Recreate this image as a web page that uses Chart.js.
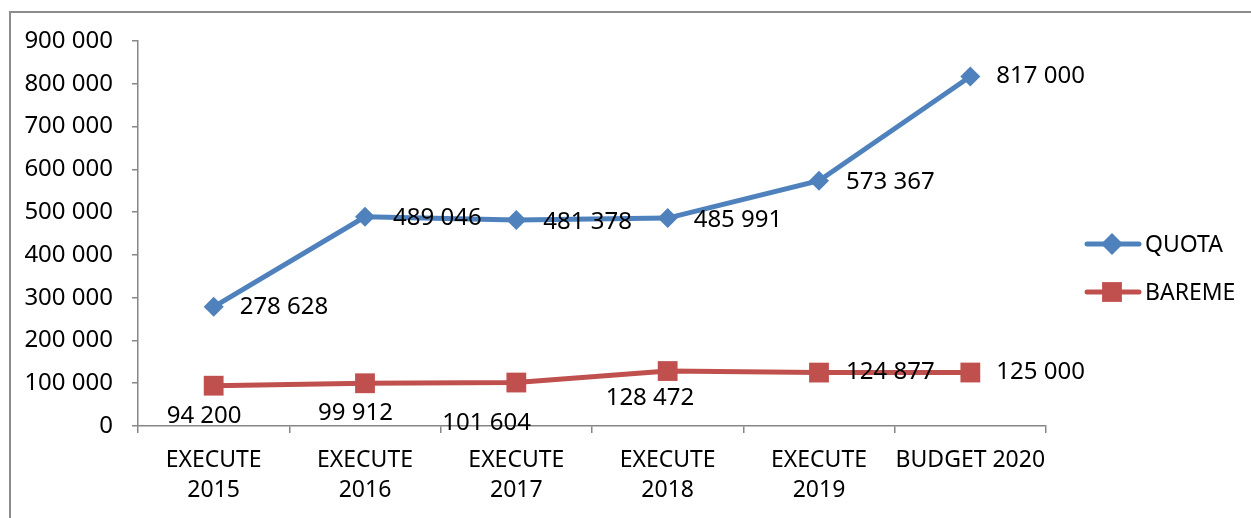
<!DOCTYPE html>
<html>
<head>
<meta charset="utf-8">
<script src="https://cdn.jsdelivr.net/npm/chart.js@4.4.1/dist/chart.umd.min.js"></script>
<style>
	html, body { margin: 0; padding: 0; background: #fff; overflow: hidden; }
	.frame { position: absolute; left: 9px; top: 11px; width: 1300px; height: 600px; border: 2px solid #8c8c8c; box-sizing: border-box; }
	.wrap { position: absolute; left: 0; top: 0; width: 1251px; height: 518px; }
</style>
</head>
<body>
<div class="frame"></div>
<div class="wrap"><canvas id="quota-chart"></canvas></div>
<script>
const categories = [
	[ 'EXECUTE', '2015' ],
	[ 'EXECUTE', '2016' ],
	[ 'EXECUTE', '2017' ],
	[ 'EXECUTE', '2018' ],
	[ 'EXECUTE', '2019' ],
	'BUDGET 2020',
];
const quotaValues = [ 278628, 489046, 481378, 485991, 573367, 817000 ];
const baremeValues = [ 94200, 99912, 101604, 128472, 124877, 125000 ];
const yTicks = [ 0, 100000, 200000, 300000, 400000, 500000, 600000, 700000, 800000, 900000 ];

const FONT = '"Noto Sans", "DejaVu Sans", sans-serif';
const BLUE = '#4f81bd';
const RED = '#c0504d';
const AXIS = '#868686';

// label offsets from the point: [dx of left edge, dy of text middle]
const quotaLabelPos = [ [ 26, 0 ], [ 28, 1 ], [ 27, 2 ], [ 26, 2 ], [ 27, 1 ], [ 26, 0 ] ];
const baremeLabelPos = [ [ -47, 30 ], [ -47, 30 ], [ -74, 41 ], [ -62, 27 ], [ 27, 0 ], [ 26, 0 ] ];

const fmt = ( v ) => String( v ).replace( /\B(?=(\d{3})+(?!\d))/g, ' ' );

const dataLabels = {
	id: 'dataLabels',
	afterDatasetsDraw( chart ) {
		const ctx = chart.ctx;
		const positions = [ quotaLabelPos, baremeLabelPos ];
		ctx.save();
		ctx.font = '24px ' + FONT;
		ctx.fillStyle = '#000';
		ctx.textAlign = 'left';
		ctx.textBaseline = 'middle';
		chart.data.datasets.forEach( ( ds, d ) => {
			const meta = chart.getDatasetMeta( d );
			meta.data.forEach( ( pt, i ) => {
				const off = positions[ d ][ i ];
				ctx.fillText( fmt( ds.data[ i ] ), pt.x + off[ 0 ], pt.y + off[ 1 ] );
			} );
		} );
		ctx.restore();
	},
};

const sideLegend = {
	id: 'sideLegend',
	afterDraw( chart ) {
		const ctx = chart.ctx;
		const items = [
			{ text: 'QUOTA', color: BLUE, style: 'rectRot', radius: 11, y: 244 },
			{ text: 'BAREME', color: RED, style: 'rect', radius: 14, y: 292 },
		];
		ctx.save();
		items.forEach( ( it ) => {
			ctx.strokeStyle = it.color;
			ctx.lineWidth = 5;
			ctx.lineCap = 'round';
			ctx.beginPath();
			ctx.moveTo( 1087, it.y );
			ctx.lineTo( 1139, it.y );
			ctx.stroke();
			ctx.fillStyle = it.color;
			Chart.helpers.drawPoint( ctx, { pointStyle: it.style, radius: it.radius, borderWidth: 0 }, 1112, it.y );
			ctx.fillStyle = '#000';
			ctx.font = '23px ' + FONT;
			ctx.textAlign = 'left';
			ctx.textBaseline = 'middle';
			ctx.fillText( it.text, 1145, it.y + 1 );
		} );
		ctx.restore();
	},
};

const config = {
	type: 'line',
	data: {
		labels: categories,
		datasets: [
			{
				label: 'QUOTA',
				data: quotaValues,
				borderColor: BLUE,
				backgroundColor: BLUE,
				borderWidth: 5,
				pointStyle: 'rectRot',
				pointRadius: 10,
				pointBorderWidth: 0,
				tension: 0,
			},
			{
				label: 'BAREME',
				data: baremeValues,
				borderColor: RED,
				backgroundColor: RED,
				borderWidth: 5,
				pointStyle: 'rect',
				pointRadius: 14,
				pointBorderWidth: 0,
				tension: 0,
			},
		],
	},
	options: {
		responsive: false,
		animation: false,
		layout: { padding: { top: 41, right: 205, left: 0, bottom: 0 } },
		plugins: {
			legend: { display: false },
			tooltip: { enabled: false },
		},
		scales: {
			x: {
				offset: true,
				grid: {
					offset: true,
					drawOnChartArea: false,
					tickLength: 7,
					color: AXIS,
					lineWidth: 1.5,
				},
				border: { color: AXIS, width: 1.5 },
				ticks: {
					color: '#000',
					font: { family: FONT, size: 23, lineHeight: 1.3 },
					padding: 13,
					maxRotation: 0,
					autoSkip: false,
				},
				afterFit: ( scale ) => {
					scale.height = 92;
				},
			},
			y: {
				min: 0,
				max: 900000,
				afterBuildTicks: ( scale ) => {
					scale.ticks = yTicks.map( ( v ) => ( { value: v } ) );
				},
				grid: {
					drawOnChartArea: false,
					tickLength: 6,
					color: AXIS,
					lineWidth: 1.5,
				},
				border: { color: AXIS, width: 1.5 },
				ticks: {
					color: '#000',
					font: { family: FONT, size: 24 },
					padding: 19,
					callback: ( v ) => fmt( v ),
				},
				afterFit: ( scale ) => {
					scale.width = 138;
				},
			},
		},
	},
	plugins: [ dataLabels, sideLegend ],
};

const canvas = document.getElementById( 'quota-chart' );
canvas.width = 1251;
canvas.height = 518;
new Chart( canvas, config );
</script>
</body>
</html>
